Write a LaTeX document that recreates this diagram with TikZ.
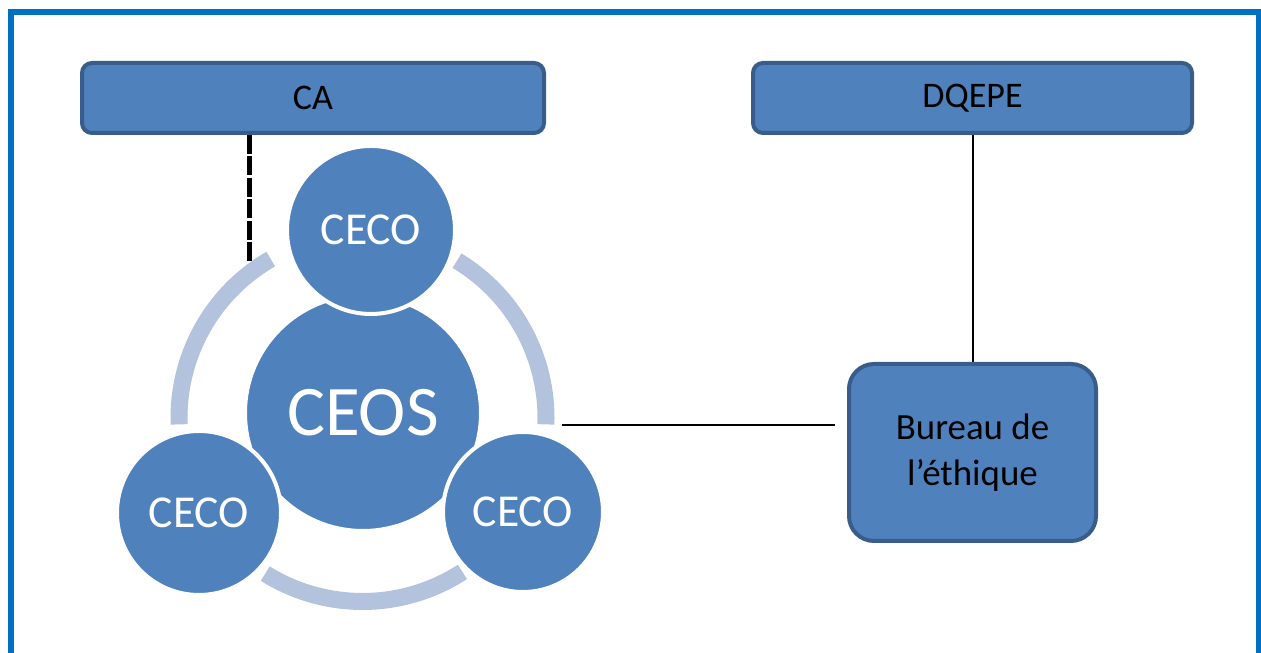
\documentclass[tikz,border=0pt]{standalone}
\usepackage{fontspec}
\setmainfont{Carlito}
\usetikzlibrary{positioning}
\definecolor{boxblue}{RGB}{79,129,189}
\definecolor{boxedge}{RGB}{56,93,138}
\definecolor{ringblue}{RGB}{179,194,221}
\definecolor{frameblue}{RGB}{0,112,192}

\begin{document}
\begin{tikzpicture}[
	box/.style={draw=boxedge, fill=boxblue, line width=0.08cm, rounded corners=0.2cm,
		align=center, inner sep=0pt, font=\fontsize{20.5}{24}\selectfont},
	ceco/.style={circle, draw=white, fill=boxblue, line width=0.08cm, inner sep=0pt,
		text=white, font=\fontsize{26}{30}\selectfont},
	ring/.style={draw=ringblue, line width=0.34cm},
	link/.style={draw=black, line width=0.04cm}
]
\useasboundingbox (0,0) rectangle (25.22,13.06);
\clip (0,0) rectangle (25.22,13.06);
\draw[frameblue, line width=0.12cm] (0.22,-1) -- (0.22,12.81) -- (25.18,12.81) -- (25.18,-1);

\node[box, minimum width=9.24cm, minimum height=1.40cm] (ca) at (6.26,11.10) {CA};
\node[box, minimum width=8.78cm, minimum height=1.40cm] (dqepe) at (19.45,11.10) {DQEPE};
\node[box, rounded corners=0.5cm, minimum width=4.94cm, minimum height=3.54cm,
	font=\fontsize{21}{26.5}\selectfont] (bureau) at (19.45,4.01) {Bureau de\\l’éthique};

\coordinate (hub) at (7.25,4.70);
\foreach \a/\b in {120/182, 238/303, -2/59}
	\draw[ring] (hub) ++(\a:3.67) arc[start angle=\a, end angle=\b, radius=3.67cm];

\coordinate (dashend) at (4.98,7.82);
\draw[line width=0.1cm, dash pattern=on 0.38cm off 0.05cm] (dashend |- ca.south) -- (dashend);
\coordinate (ringtap) at (11.24,4.56);
\draw[link, shorten >=0.24cm] (ringtap) -- (ringtap -| bureau.west);
\draw[link] (dqepe) -- (bureau);

\node[ceco, minimum size=4.72cm, font=\fontsize{40.5}{48}\selectfont] (ceos) at (7.26,4.80) {CEOS};
\node[ceco, minimum size=3.36cm] (cecotop) at (7.42,8.46) {CECO};
\node[ceco, minimum size=3.28cm] (cecoleft) at (3.98,2.80) {CECO};
\node[ceco, minimum size=3.20cm] (cecoright) at (10.46,2.82) {CECO};
\end{tikzpicture}
\end{document}
